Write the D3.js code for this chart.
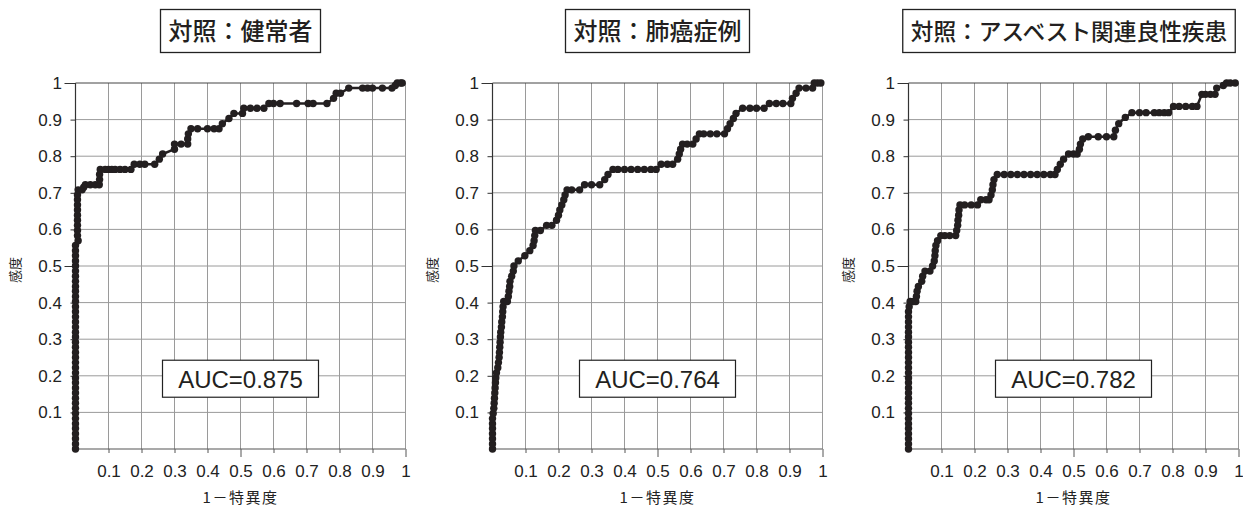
<!DOCTYPE html>
<html>
  <head>
    <meta charset="UTF-8" />
    <title>ROC</title>
    <script src="https://d3js.org/d3.v7.min.js"></script>
    <style>
      body { margin: 0; background: #fff; }
    </style>
  </head>
  <body>
    <div id="chart"></div>
    <script>
      ///////////////////////data///////////////////////////////

      const titles = ["対照：健常者", "対照：肺癌症例", "対照：アスベスト関連良性疾患"];
      const aucLabels = ["AUC=0.875", "AUC=0.764", "AUC=0.782"];
      const tickValues = [0.1, 0.2, 0.3, 0.4, 0.5, 0.6, 0.7, 0.8, 0.9, 1];
      const tickLabels = ["0.1", "0.2", "0.3", "0.4", "0.5", "0.6", "0.7", "0.8", "0.9", "1"];
      const xTitle = "1－特異度";
      const yTitle = "感度";

      // [1-特異度, 感度]
      const rocHealthy = [
        [0,0],[0,0.014],[0,0.028],[0,0.042],[0,0.056],[0,0.069],[0,0.083],[0,0.097],[0,0.111],[0,0.125],
        [0,0.139],[0,0.153],[0,0.167],[0,0.181],[0,0.194],[0,0.208],[0,0.222],[0,0.236],[0,0.25],[0,0.264],
        [0,0.278],[0,0.292],[0,0.306],[0,0.319],[0,0.333],[0,0.347],[0,0.361],[0,0.375],[0,0.389],[0,0.403],
        [0,0.417],[0,0.431],[0,0.444],[0,0.458],[0,0.472],[0,0.486],[0,0.5],[0,0.514],[0,0.528],[0,0.542],
        [0,0.556],[0.008,0.569],[0.006,0.583],[0.006,0.597],[0.006,0.611],[0.006,0.625],[0.006,0.639],
        [0.006,0.653],[0.006,0.667],[0.006,0.681],[0.006,0.694],[0.008,0.708],[0.02,0.708],[0.025,0.715],
        [0.03,0.722],[0.045,0.722],[0.06,0.722],[0.072,0.722],[0.073,0.736],[0.073,0.75],[0.075,0.764],
        [0.09,0.764],[0.1,0.764],[0.11,0.764],[0.12,0.764],[0.135,0.764],[0.15,0.764],[0.168,0.764],
        [0.178,0.778],[0.195,0.778],[0.21,0.778],[0.24,0.778],[0.254,0.792],[0.264,0.806],[0.3,0.819],
        [0.3,0.833],[0.32,0.833],[0.34,0.833],[0.34,0.847],[0.342,0.861],[0.35,0.875],[0.37,0.875],
        [0.4,0.875],[0.42,0.875],[0.435,0.875],[0.445,0.889],[0.465,0.903],[0.48,0.917],[0.506,0.917],
        [0.51,0.931],[0.53,0.931],[0.55,0.931],[0.571,0.931],[0.586,0.944],[0.6,0.944],[0.62,0.944],
        [0.67,0.944],[0.705,0.944],[0.72,0.944],[0.762,0.944],[0.782,0.958],[0.79,0.972],[0.803,0.972],
        [0.828,0.986],[0.87,0.986],[0.885,0.986],[0.9,0.986],[0.93,0.986],[0.959,0.986],[0.969,0.993],
        [0.975,1],[0.985,1],[0.99,1]
      ];

      const rocLungCancer = [
        [0,0],[0,0.014],[0,0.028],[0,0.042],[0,0.056],[0,0.069],[0,0.083],[0.002,0.097],[0.004,0.111],
        [0.005,0.125],[0.006,0.139],[0.007,0.153],[0.008,0.167],[0.009,0.181],[0.01,0.194],[0.012,0.208],
        [0.016,0.222],[0.018,0.236],[0.02,0.25],[0.021,0.264],[0.022,0.278],[0.023,0.292],[0.024,0.306],
        [0.025,0.319],[0.027,0.333],[0.028,0.347],[0.03,0.361],[0.031,0.375],[0.032,0.389],[0.034,0.403],
        [0.045,0.403],[0.048,0.417],[0.05,0.431],[0.052,0.444],[0.053,0.458],[0.058,0.472],[0.063,0.486],
        [0.065,0.5],[0.078,0.514],[0.098,0.528],[0.113,0.542],[0.123,0.556],[0.126,0.569],[0.128,0.583],
        [0.13,0.597],[0.145,0.597],[0.164,0.611],[0.18,0.611],[0.194,0.625],[0.2,0.639],[0.204,0.653],
        [0.21,0.667],[0.216,0.681],[0.22,0.694],[0.226,0.708],[0.24,0.708],[0.264,0.708],[0.279,0.722],
        [0.3,0.722],[0.325,0.722],[0.34,0.736],[0.35,0.75],[0.365,0.764],[0.38,0.764],[0.4,0.764],
        [0.42,0.764],[0.44,0.764],[0.46,0.764],[0.48,0.764],[0.496,0.764],[0.511,0.778],[0.53,0.778],
        [0.546,0.778],[0.561,0.792],[0.566,0.806],[0.57,0.819],[0.576,0.833],[0.59,0.833],[0.607,0.833],
        [0.617,0.847],[0.627,0.861],[0.64,0.861],[0.66,0.861],[0.68,0.861],[0.703,0.861],[0.712,0.875],
        [0.72,0.889],[0.73,0.903],[0.738,0.917],[0.758,0.931],[0.78,0.931],[0.8,0.931],[0.823,0.931],
        [0.839,0.944],[0.86,0.944],[0.88,0.944],[0.904,0.944],[0.909,0.958],[0.92,0.972],[0.929,0.986],
        [0.95,0.986],[0.97,0.986],[0.975,1],[0.985,1],[0.995,1]
      ];

      const rocAsbestos = [
        [0,0],[0,0.014],[0,0.028],[0,0.042],[0,0.056],[0,0.069],[0,0.083],[0,0.097],[0,0.111],[0,0.125],
        [0,0.139],[0,0.153],[0,0.167],[0,0.181],[0,0.194],[0,0.208],[0,0.222],[0,0.236],[0,0.25],[0,0.264],
        [0,0.278],[0,0.292],[0,0.306],[0,0.319],[0,0.333],[0,0.347],[0,0.361],[0,0.375],[0.002,0.389],
        [0.005,0.403],[0.015,0.403],[0.022,0.403],[0.024,0.417],[0.026,0.431],[0.03,0.444],[0.04,0.458],
        [0.043,0.472],[0.05,0.486],[0.065,0.486],[0.073,0.5],[0.078,0.514],[0.08,0.528],[0.081,0.542],
        [0.083,0.556],[0.088,0.569],[0.098,0.583],[0.11,0.583],[0.125,0.583],[0.143,0.583],[0.146,0.597],
        [0.149,0.611],[0.15,0.625],[0.152,0.639],[0.153,0.653],[0.156,0.667],[0.17,0.667],[0.19,0.667],
        [0.209,0.667],[0.219,0.681],[0.235,0.681],[0.244,0.681],[0.25,0.694],[0.254,0.708],[0.256,0.722],
        [0.259,0.736],[0.269,0.75],[0.29,0.75],[0.31,0.75],[0.33,0.75],[0.35,0.75],[0.37,0.75],[0.39,0.75],
        [0.41,0.75],[0.43,0.75],[0.444,0.75],[0.451,0.764],[0.46,0.778],[0.47,0.792],[0.485,0.806],
        [0.5,0.806],[0.511,0.806],[0.518,0.819],[0.521,0.833],[0.528,0.847],[0.545,0.853],[0.575,0.853],
        [0.6,0.853],[0.622,0.853],[0.627,0.871],[0.637,0.889],[0.657,0.906],[0.677,0.919],[0.7,0.919],
        [0.72,0.919],[0.745,0.919],[0.76,0.919],[0.775,0.919],[0.788,0.919],[0.803,0.936],[0.82,0.936],
        [0.84,0.936],[0.86,0.936],[0.874,0.936],[0.889,0.969],[0.9,0.969],[0.915,0.969],[0.929,0.969],
        [0.934,0.986],[0.954,0.993],[0.964,1],[0.975,1],[0.99,1]
      ];

      const panels = [
        { title: titles[0], auc: aucLabels[0], roc: rocHealthy, left: 75.5 },
        { title: titles[1], auc: aucLabels[1], roc: rocLungCancer, left: 492.5 },
        { title: titles[2], auc: aucLabels[2], roc: rocAsbestos, left: 908.5 },
      ];

      ///////////////////////chart///////////////////////////////

      const W = 1243, H = 513;
      const plotW = 330, plotTop = 83, plotBottom = 449;
      const ink = "#231f20";
      const cjk = "'Noto Sans CJK JP', 'Noto Sans', sans-serif";
      const latin = "'Liberation Sans', Arial, sans-serif";

      const svg = d3.select("#chart").append("svg")
        .attr("width", W).attr("height", H)
        .style("display", "block");

      panels.forEach((p) => {
        const x = d3.scaleLinear().domain([0, 1]).range([p.left, p.left + plotW]);
        const y = d3.scaleLinear().domain([0, 1]).range([plotBottom, plotTop]);
        const cx = p.left + plotW / 2;
        const g = svg.append("g");

        // grid
        g.selectAll(".vgrid").data(tickValues).join("line")
          .attr("x1", (d) => x(d)).attr("x2", (d) => x(d))
          .attr("y1", plotTop).attr("y2", plotBottom)
          .attr("stroke", "#9a9a9a").attr("stroke-width", 1);
        g.selectAll(".hgrid").data(tickValues).join("line")
          .attr("x1", p.left).attr("x2", p.left + plotW)
          .attr("y1", (d) => y(d)).attr("y2", (d) => y(d))
          .attr("stroke", (d) => (d === 1 ? "#444" : "#9a9a9a"))
          .attr("stroke-width", 1);

        // AUC box
        const aucG = g.append("g");
        aucG.append("rect")
          .attr("x", cx - 78).attr("y", y(0.192) - 18.5)
          .attr("width", 156).attr("height", 37)
          .attr("fill", "#fff").attr("stroke", "#222").attr("stroke-width", 1.2);
        aucG.append("text")
          .attr("x", cx).attr("y", y(0.192) + 9)
          .attr("text-anchor", "middle")
          .style("font-family", latin).style("font-size", "24px")
          .attr("fill", ink).text(p.auc);

        // axes
        const yAxis = d3.axisLeft(y).tickValues(tickValues)
          .tickFormat((d, i) => tickLabels[i]).tickSize(5).tickPadding(8.5);
        const ga = g.append("g").attr("transform", `translate(${p.left},0)`).call(yAxis);
        ga.select(".domain").remove();
        ga.selectAll(".tick line").attr("stroke", "#333")
          .attr("x2", (d) => (d === 0.5 || d === 1 ? -11 : -5));
        ga.selectAll(".tick text").style("font-family", latin).style("font-size", "17px").attr("fill", "#222");

        const xAxis = d3.axisBottom(x).tickValues(tickValues)
          .tickFormat((d, i) => tickLabels[i]).tickSize(4).tickPadding(12);
        const gb = g.append("g").attr("transform", `translate(0,${plotBottom})`).call(xAxis);
        gb.select(".domain").remove();
        gb.selectAll(".tick line").attr("stroke", "#555")
          .attr("y2", (d) => (d === 0.5 || d === 1 ? 8 : 4));
        gb.selectAll(".tick text").style("font-family", latin).style("font-size", "17px").attr("fill", "#222");

        g.append("line").attr("x1", p.left).attr("x2", p.left + plotW)
          .attr("y1", plotBottom).attr("y2", plotBottom).attr("stroke", "#555").attr("stroke-width", 1.2);
        g.append("line").attr("x1", p.left).attr("x2", p.left)
          .attr("y1", plotTop).attr("y2", plotBottom).attr("stroke", "#333").attr("stroke-width", 1.2);

        // curve
        g.append("path").datum(p.roc)
          .attr("d", d3.line().x((d) => x(d[0])).y((d) => y(d[1])))
          .attr("fill", "none").attr("stroke", ink).attr("stroke-width", 2.5);
        g.selectAll(".dot").data(p.roc).join("circle")
          .attr("cx", (d) => x(d[0])).attr("cy", (d) => y(d[1]))
          .attr("r", 3.7).attr("fill", ink);

        // axis titles
        g.append("text")
          .attr("transform", `translate(${p.left - 61},${270}) rotate(-90)`)
          .attr("text-anchor", "middle").attr("dominant-baseline", "central")
          .style("font-family", cjk).style("font-size", "13px").attr("fill", "#222")
          .text(yTitle);
        g.append("text")
          .attr("x", cx).attr("y", 503).attr("text-anchor", "middle")
          .style("font-family", cjk).style("font-size", "15px")
          .style("letter-spacing", "1.5px").attr("fill", "#222")
          .text(xTitle);

        // title box
        const tx = Math.min(cx, W - 174);
        const t = g.append("text")
          .attr("x", tx).attr("y", 40).attr("text-anchor", "middle")
          .style("font-family", cjk).style("font-size", "24px").style("font-weight", "500")
          .attr("fill", ink).text(p.title);
        let tw = t.node().getComputedTextLength();
        if (tw > 318) {
          // long title: shrink the font so the box stays inside the page
          const fs = Math.floor((24 * 318) / tw * 10) / 10;
          t.style("font-size", fs + "px").attr("y", 39.5);
          tw = t.node().getComputedTextLength();
        }
        g.insert("rect", () => t.node())
          .attr("x", tx - tw / 2 - 8).attr("y", 9.5)
          .attr("width", tw + 16).attr("height", 43)
          .attr("fill", "#fff").attr("stroke", "#222").attr("stroke-width", 1.3);
      });
    </script>
  </body>
</html>
